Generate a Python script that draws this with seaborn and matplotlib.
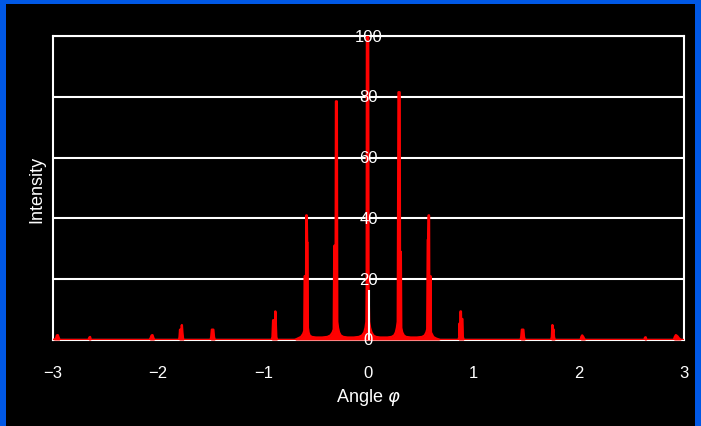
import pandas as pd
import matplotlib
matplotlib.use('Agg')
import matplotlib.pyplot as plt
from matplotlib.patches import Rectangle
import seaborn as sns

# diffraction pattern
angle = [-3.0, -2.97, -2.96, -2.952, -2.944, -2.935,
         -2.66, -2.652, -2.645, -2.638,
         -2.08, -2.07, -2.06, -2.052, -2.045, -2.035,
         -1.80, -1.795, -1.790, -1.785, -1.778, -1.773, -1.768, -1.762, -1.755,
         -1.50, -1.494, -1.488, -1.474, -1.468, -1.46,
         -0.92, -0.912, -0.906, -0.900, -0.895, -0.889, -0.885, -0.881, -0.876, -0.868,
         -0.70, -0.67, -0.64, -0.62, -0.61, -0.606, -0.602, -0.599, -0.594,
         -0.591, -0.587, -0.583, -0.579, -0.576, -0.57, -0.56, -0.54, -0.50,
         -0.44, -0.39, -0.36, -0.34, -0.33, -0.325, -0.321, -0.318, -0.313,
         -0.309, -0.301, -0.297, -0.29, -0.28, -0.265, -0.24, -0.20,
         -0.14, -0.09, -0.06, -0.04, -0.028, -0.02, -0.017, -0.015, -0.003,
         0.0, 0.006, 0.015, 0.028, 0.045, 0.07, 0.11,
         0.18, 0.22, 0.245, 0.26, 0.27, 0.278, 0.285, 0.296, 0.300, 0.303, 0.307,
         0.311, 0.32, 0.335, 0.355, 0.40,
         0.46, 0.51, 0.535, 0.55, 0.558, 0.563, 0.567, 0.571, 0.575, 0.578,
         0.583, 0.586, 0.590, 0.593, 0.60, 0.615, 0.64, 0.68,
         0.855, 0.862, 0.866, 0.870, 0.874, 0.878, 0.882, 0.887, 0.892, 0.896, 0.905,
         1.445, 1.451, 1.457, 1.471, 1.477, 1.485,
         1.735, 1.742, 1.747, 1.752, 1.757, 1.762, 1.77,
         2.015, 2.022, 2.03, 2.04, 2.05, 2.06,
         2.62, 2.627, 2.633, 2.64,
         2.90, 2.91, 2.92, 2.935, 2.95, 2.97, 3.0]
intensity = [0, 0.3, 1.5, 1.6, 0.8, 0,
             0, 0.8, 1.0, 0,
             0, 0.6, 1.5, 1.6, 0.8, 0,
             0, 1.0, 3.4, 1.5, 2.0, 4.9, 2.5, 0.5, 0,
             0, 1.0, 3.4, 3.4, 1.0, 0,
             0, 1.0, 6.5, 6.5, 1.0, 2.0, 9.4, 5.5, 1.0, 0,
             0, 0.5, 1.0, 2.0, 3.0, 21, 21, 2.5, 3.5,
             41, 41, 32, 32, 4, 2.5, 1.5, 1.0, 0.8,
             0.8, 1.0, 1.5, 2.5, 3.5, 31, 31, 5, 6,
             78.5, 78.5, 6, 4, 2.5, 1.5, 1.0, 0.8,
             0.8, 1.0, 1.5, 2.5, 4, 6, 18, 100, 100,
             17, 6, 4, 2.5, 1.5, 1.0, 0.8,
             0.8, 1.0, 1.5, 2.5, 4, 6, 81.5, 81.5, 6, 29, 29,
             4, 2.5, 1.5, 1.0, 0.8,
             0.8, 1.0, 1.5, 2.5, 3.5, 33, 33, 41, 41, 3,
             2.5, 21, 21, 2.5, 2.0, 1.0, 0.5, 0,
             0, 1.0, 5.5, 1.5, 9.4, 9.4, 1.5, 6.9, 6.9, 1.0, 0,
             0, 1.0, 3.4, 3.4, 1.0, 0,
             0, 1.0, 4.9, 2.5, 3.5, 1.0, 0,
             0, 1.0, 1.5, 1.0, 0.3, 0,
             0, 0.8, 0.9, 0,
             0, 1.0, 1.6, 1.2, 0.5, 0, 0]

x_ticks = [-3, -2, -1, 0, 1, 2, 3]
y_ticks = [0, 20, 40, 60, 80, 100]

df = pd.DataFrame({'angle': angle, 'intensity': intensity})

sns.set_theme(style='dark')
plt.rcParams.update({'font.family': ['Liberation Sans', 'DejaVu Sans'],
                     'axes.facecolor': 'black', 'figure.facecolor': 'black',
                     'text.color': 'white', 'axes.labelcolor': 'white',
                     'xtick.color': 'white', 'ytick.color': 'white'})

fig = plt.figure(figsize=(7.01, 4.27), dpi=100)
ax = fig.add_axes([52.7/701, 86/427, 631.6/701, 304/427])

# blue frame round the picture
blue = '#0058e6'
for rect in [(0, 0, 6/701, 1), (0, 1 - 5/427, 1, 5/427), (1 - 6/701, 0, 6/701, 1)]:
    fig.add_artist(Rectangle(rect[:2], rect[2], rect[3], transform=fig.transFigure,
                             color=blue, lw=0, zorder=10))

ax.fill_between(df['angle'], df['intensity'], 0, color='red', lw=0, zorder=3)
sns.lineplot(data=df, x='angle', y='intensity', ax=ax, estimator=None, sort=False,
             color='red', lw=1.7, zorder=3)

ax.set_xlim(-3, 3)
ax.set_ylim(0, 100)
ax.set_xticks(x_ticks)
ax.set_xticklabels([str(t).replace('-', '\u2212') for t in x_ticks], fontsize=12)
ax.set_yticks(y_ticks)
ax.set_yticklabels([])
ax.tick_params(axis='y', length=0)
ax.tick_params(axis='x', direction='out', length=5, width=1.5, pad=13, colors='white')
ax.grid(axis='y', color='white', lw=1.5, zorder=1)
ax.grid(axis='x', visible=False)
for s in ax.spines.values():
    s.set_color('white')
    s.set_linewidth(1.5)

# y axis sits at angle 0, labels drawn on it
ax.vlines(0, 0, 16.5, color='white', lw=1.5, zorder=4)
for v in y_ticks:
    ax.text(0, v, str(v), ha='center', va='center', color='white', fontsize=12,
            zorder=5, clip_on=False)

ax.set_xlabel('Angle $\\varphi$', fontsize=13, labelpad=4)
ax.set_ylabel('Intensity', fontsize=13, labelpad=1.5)

fig.savefig('out.png', dpi=100, facecolor='black')
